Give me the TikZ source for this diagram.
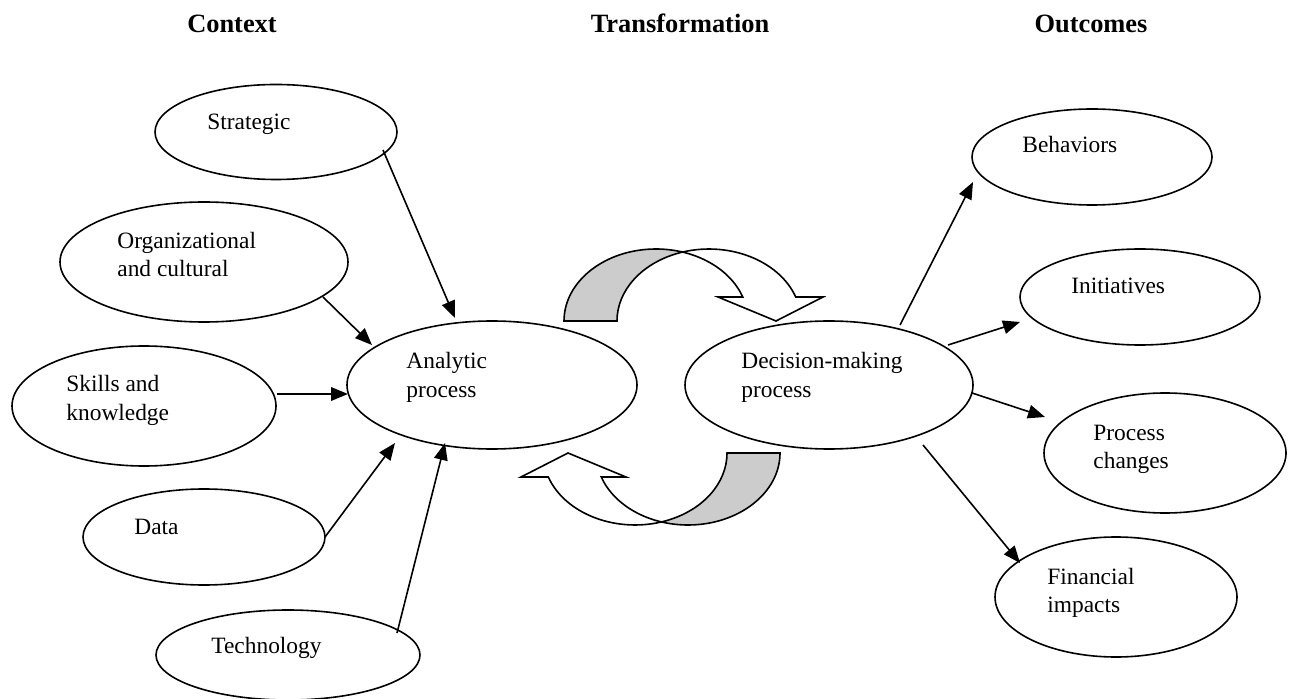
\documentclass[tikz,border=0pt]{standalone}
\usepackage{fontspec}
\setmainfont{Liberation Serif}
\usetikzlibrary{shapes.geometric,arrows.meta,calc}

\tikzset{
  bubble/.style={ellipse, draw, line width=0.8pt, inner sep=0pt},
  % multi-line labels are anchored on the baseline of their last line
  lbl/.style={anchor=base west, align=left, inner sep=0pt,
    font=\fontsize{11.7}{14}\selectfont},
  head/.style={anchor=base, inner sep=0pt,
    font=\fontsize{13.2}{16}\selectfont\bfseries},
  link/.style={line width=0.8pt, -{Triangle[length=8.5pt,width=6.8pt]}},
  band/.style={x radius=92, y radius=72},
  pics/cycle arrow/.style={code={
    % shaded back half of the curved band
    \fill[black!20] (-108,-66) arc[band, start angle=180, end angle=286.7]
      arc[band, start angle=253.3, end angle=180] -- cycle;
    % outline of the band and its arrow head
    \draw[line width=0.8pt, line join=miter]
      (-108,-66) arc[band, start angle=180, end angle=340.5]
      -- (46,-90) -- (104,-66) -- (151,-90) -- (123.7,-90)
      arc[band, start angle=340.5, end angle=180] -- cycle;
  }}
}

\begin{document}
\begin{tikzpicture}[x=0.5pt, y=-0.5pt]
\useasboundingbox (0,0) rectangle (1293,699);

% column headings
\node[head] (hctx) at (232,33) {Context};
\node[head] (htrans) at (680,33) {Transformation};
\node[head] (hout) at (1091,33) {Outcomes};

% context factors
\node[bubble, minimum width=121pt, minimum height=47.5pt] (strat) at (276,132) {};
\node[bubble, minimum width=144pt, minimum height=60pt] (org) at (204,262) {};
\node[bubble, minimum width=132pt, minimum height=60pt] (skills) at (144,406) {};
\node[bubble, minimum width=121pt, minimum height=48pt] (data) at (204,537) {};
\node[bubble, minimum width=132pt, minimum height=45pt] (tech) at (288,655) {};

% transformation
\node[bubble, minimum width=145pt, minimum height=64pt] (ana) at (492,385) {};
\node[bubble, minimum width=144pt, minimum height=64pt] (dec) at (829,385) {};

% outcomes
\node[bubble, minimum width=120pt, minimum height=48pt] (behav) at (1092,157) {};
\node[bubble, minimum width=120pt, minimum height=48pt] (init) at (1140,297) {};
\node[bubble, minimum width=121pt, minimum height=60pt] (proc) at (1165,453) {};
\node[bubble, minimum width=121pt, minimum height=60pt] (fin) at (1116,597) {};

% labels
\node[lbl] (strat-t) at (207,130) {Strategic};
\node[lbl] (org-t) at (117,277) {Organizational\\and cultural};
\node[lbl] (skills-t) at (66,420) {Skills and\\knowledge};
\node[lbl] (data-t) at (134,534) {Data};
\node[lbl] (tech-t) at (211,653) {Technology};
\node[lbl] (ana-t) at (406,397) {Analytic\\process};
\node[lbl] (dec-t) at (741,397) {Decision-making\\process};
\node[lbl] (behav-t) at (1022,153) {Behaviors};
\node[lbl] (init-t) at (1071,294) {Initiatives};
\node[lbl] (proc-t) at (1093,468) {Process\\changes};
\node[lbl] (fin-t) at (1047,612) {Financial\\impacts};

% inputs into the analytic process
\draw[link] ($(strat)+(107,18)$) -- ($(ana)+(-37,-67)$);
\draw[link] ($(org)+(119,35)$) -- ($(ana)+(-120,-40)$);
\draw[link] ($(skills)+(133,-12)$) -- ($(ana)+(-144,9)$);
\draw[link] ($(data)+(121,0)$) -- ($(ana)+(-97,58)$);
\draw[link] ($(tech)+(109,-22)$) -- ($(ana)+(-47,58)$);

% outputs of decision making
\draw[link] ($(dec)+(71,-60)$) -- ($(behav)+(-119,25)$);
\draw[link] ($(dec)+(119,-40)$) -- ($(init)+(-120,25)$);
\draw[link] ($(dec)+(143,8)$) -- ($(proc)+(-120,-36)$);
\draw[link] ($(dec)+(94,60)$) -- ($(fin)+(-96,-34)$);

% cycle between analysis and decision making
\pic at (672,387) {cycle arrow};
\pic[rotate=180] at (672,387) {cycle arrow};
\end{tikzpicture}
\end{document}
